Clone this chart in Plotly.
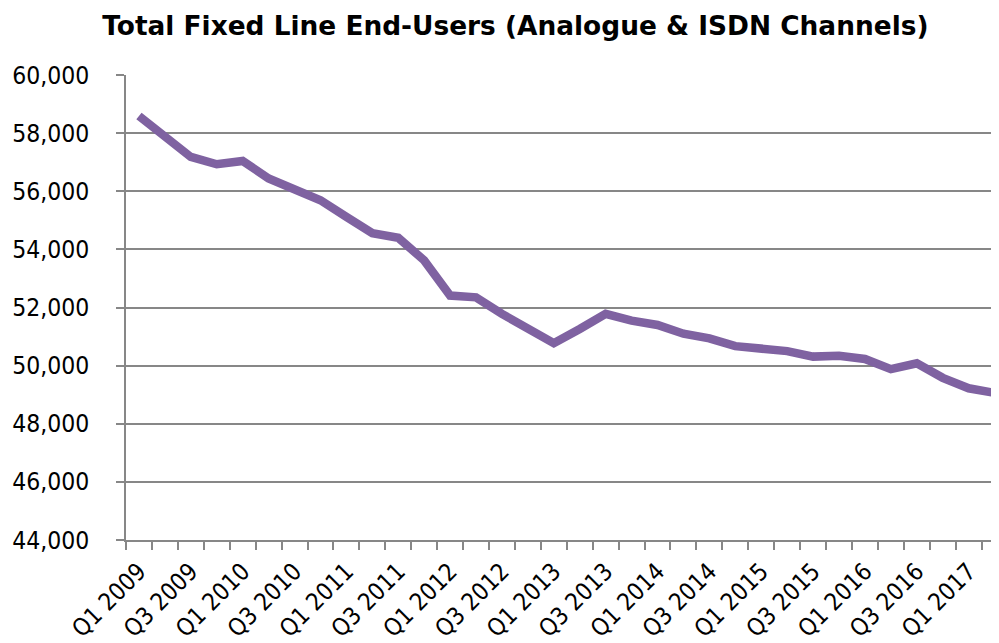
import plotly.graph_objects as go

quarters = [f"Q{q} {y}" for y in range(2009, 2018) for q in (1, 2, 3, 4)][:34]
end_users = [58590, 57900, 57180, 56930, 57040, 56440, 56060, 55690, 55120, 54560,
             54400, 53620, 52410, 52350, 51780, 51260, 50770, 51260, 51780, 51550,
             51400, 51100, 50940, 50670, 50580, 50500, 50310, 50340, 50230, 49880,
             50080, 49580, 49220, 49060]
tick_text = [q if i % 2 == 0 else "" for i, q in enumerate(quarters)]

FONT = "DejaVu Sans Condensed, Liberation Sans, sans-serif"

fig = go.Figure()
fig.add_trace(go.Scatter(
    x=quarters, y=end_users, mode="lines",
    line=dict(color="#7F62A1", width=8.5),
    hoverinfo="x+y",
))

fig.update_layout(
    width=991, height=635,
    margin=dict(l=118, r=0, t=67, b=103),
    paper_bgcolor="white", plot_bgcolor="white",
    showlegend=False,
    font=dict(family=FONT, color="black"),
    title=dict(text="<b>Total Fixed Line End-Users (Analogue & ISDN Channels)</b>",
               x=0.512, xanchor="center", y=0.972, yanchor="middle",
               font=dict(size=26.4, family="DejaVu Sans", color="black")),
)
fig.update_xaxes(
    type="category", range=[-0.5, 33.17],
    tickvals=quarters, ticktext=tick_text, tickangle=-45,
    tickson="boundaries", ticks="outside", ticklen=8, tickwidth=1.5, tickcolor="#878787",
    showline=True, linecolor="#878787", linewidth=1.5,
    showgrid=False, tickfont=dict(size=24, color="black"),
    ticklabelstandoff=6,
)
fig.update_yaxes(
    range=[44000, 60000], dtick=2000, tickformat=",",
    ticks="outside", ticklen=8, tickwidth=1.5, tickcolor="#878787",
    showline=True, linecolor="#878787", linewidth=1.5,
    showgrid=True, gridcolor="#878787", gridwidth=1.5,
    zeroline=False, tickfont=dict(size=24.5, color="black"),
    ticklabelstandoff=22,
)

fig.write_html("out.html")
